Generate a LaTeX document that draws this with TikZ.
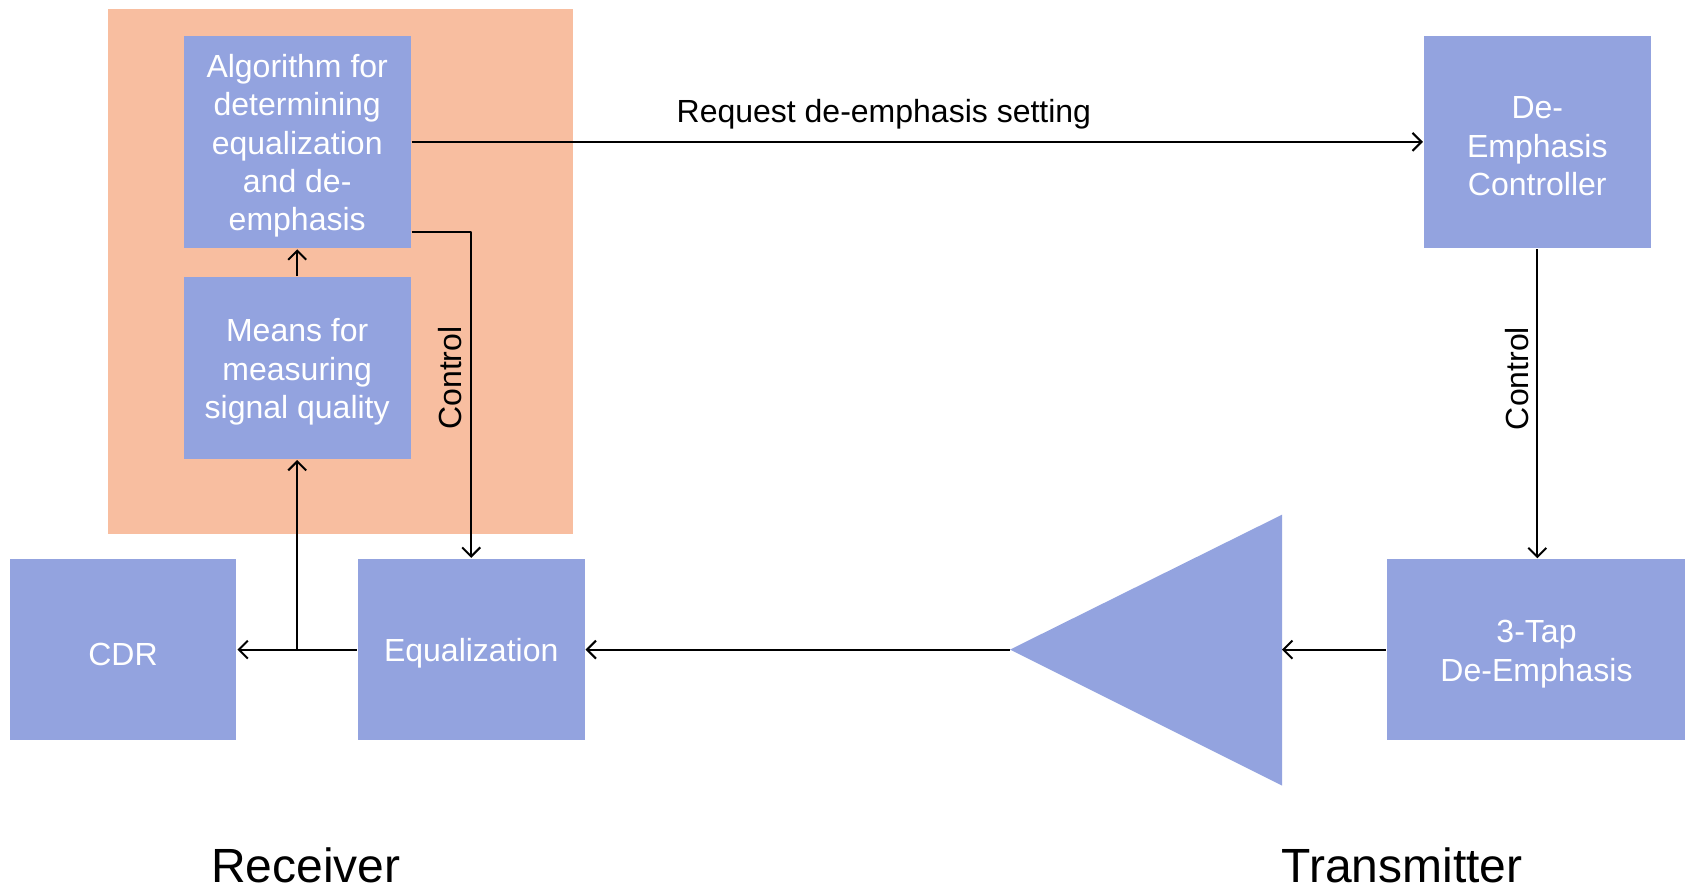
\documentclass[tikz,border=0pt]{standalone}
\usepackage{fontspec}
\setmainfont{Liberation Sans}
\usepackage{xcolor}
\usetikzlibrary{arrows.meta,calc}
\definecolor{boxblue}{RGB}{147,163,223}
\definecolor{rxorange}{RGB}{248,190,160}
\newcommand{\topstrut}{\rule{0pt}{15.6pt}}

\begin{document}
\begin{tikzpicture}[x=0.5pt,y=-0.5pt,>={Straight Barb[length=4.5pt,width=9pt]},line width=1pt,line join=round,
  blk/.style={fill=boxblue,text=white,align=center,inner sep=0pt,font=\fontsize{16}{19.2}\selectfont},
  ctl/.style={rotate=90,anchor=south,inner sep=4pt,font=\fontsize{16}{19.2}\selectfont},
  side/.style={anchor=base,font=\fontsize{24}{28}\selectfont}]
  \useasboundingbox (0,0) rectangle (1685,889);
  \fill[rxorange] (107.5,8.6) rectangle (572.8,534);
  \node[blk,minimum width=113.4pt,minimum height=106.4pt] (ALG) at (297.2,141.9) {\topstrut Algorithm for\\determining\\equalization\\and de-\\emphasis};
  \node[blk,minimum width=113.4pt,minimum height=91pt] (MEAS) at (297.2,368) {\topstrut Means for\\measuring\\signal quality};
  \node[blk,minimum width=113.4pt,minimum height=90.8pt] (CDR) at (123,649.6) {\topstrut CDR};
  \node[blk,minimum width=113.4pt,minimum height=90.8pt] (EQ) at (471.2,649.6) {\topstrut Equalization};
  \node[blk,minimum width=113.4pt,minimum height=106.4pt] (DEC) at (1537.3,141.9) {\topstrut De-\\Emphasis\\Controller};
  \node[blk,minimum width=150pt,minimum height=90.3pt] (TAP) at (1536.5,649.6) {\topstrut 3-Tap\\De-Emphasis};
  \coordinate (AMPT) at (1010,649.6);
  \coordinate (AMPR) at (1282,649.6);
  \fill[boxblue] (AMPT) -- (1282,514.7) -- (1282,785.5) -- cycle;
  \draw[->] (ALG.east) -- node[pos=0.467,anchor=base,yshift=9.5pt,font=\fontsize{16}{19.2}\selectfont]{Request de-emphasis setting} (DEC.west);
  \draw[->] ([yshift=8.6pt]ALG.south east) -| node[pos=0.724,ctl]{Control} (EQ.north);
  \draw[->] (DEC.south) -- node[pos=0.418,ctl]{Control} (DEC.south |- TAP.north);
  \draw[->] (TAP.west) -- (AMPR);
  \draw[->] (AMPT) -- (EQ.east);
  \draw[->] (EQ.west) -- (CDR.east);
  \draw[->] (MEAS.south |- CDR.east) -- (MEAS.south);
  \draw[->] (MEAS.north) -- (ALG.south);
  \node[side] (RX) at (306,882) {Receiver};
  \node[side] (TX) at (1402,882) {Transmitter};
\end{tikzpicture}
\end{document}
